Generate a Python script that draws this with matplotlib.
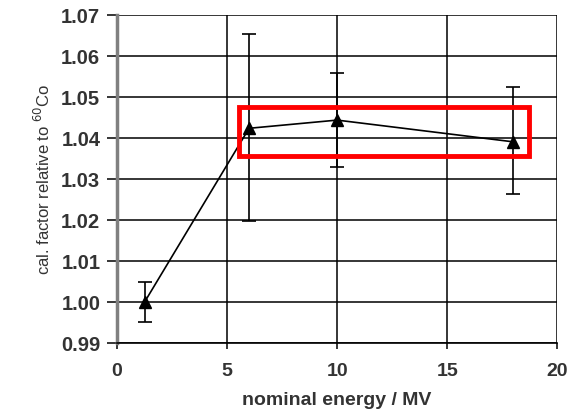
import matplotlib
matplotlib.use("Agg")
import matplotlib.pyplot as plt
from matplotlib.patches import Rectangle

energy = [1.25, 6, 10, 18]
cal_factor = [1.000, 1.0424, 1.0444, 1.0391]
err_up = [0.0049, 0.0229, 0.0115, 0.0134]
err_down = [0.0048, 0.0225, 0.0114, 0.0128]
x_ticks = [0, 5, 10, 15, 20]
y_ticks = [0.99, 1.00, 1.01, 1.02, 1.03, 1.04, 1.05, 1.06, 1.07]
highlight_x = [5.56, 18.73]
highlight_y = [1.0356, 1.0475]

plt.rcParams['font.family'] = ['Liberation Sans', 'DejaVu Sans']

fig = plt.figure(figsize=(5.68, 4.09), dpi=100)
ax = fig.add_axes([0.206, 0.161, 0.775, 0.802])

ax.errorbar(energy, cal_factor, yerr=[err_down, err_up], color='black',
            marker='^', markersize=8, linewidth=1.2, elinewidth=1.2,
            capsize=5, capthick=1.2, zorder=3)

ax.set_xlim(x_ticks[0], x_ticks[-1])
ax.set_ylim(y_ticks[0], y_ticks[-1])
ax.set_xticks(x_ticks)
ax.set_yticks(y_ticks)
ax.set_yticklabels([f"{v:.2f}" for v in y_ticks])
ax.grid(True, color='black', linewidth=1.1)
ax.set_axisbelow(True)

for s in ['top', 'right']:
    ax.spines[s].set_visible(False)
ax.spines['left'].set_color('#808080')
ax.spines['left'].set_linewidth(2.5)
ax.spines['bottom'].set_color('black')
ax.spines['bottom'].set_linewidth(1.2)

ax.tick_params(axis='y', direction='out', length=7, width=1.1, pad=5,
               labelsize=14.5)
ax.tick_params(axis='x', direction='out', length=4, width=1.1, pad=10,
               labelsize=14)
for lbl in ax.get_xticklabels() + ax.get_yticklabels():
    lbl.set_fontweight('bold')
    lbl.set_color('#333333')

ax.set_xlabel('nominal energy / MV', fontsize=14, fontweight='bold',
              color='#333333', labelpad=9)
ax.set_ylabel('cal. factor relative to $^{60}$Co', fontsize=12,
              color='#333333', labelpad=6)

rect = Rectangle((highlight_x[0], highlight_y[0]),
                 highlight_x[1] - highlight_x[0],
                 highlight_y[1] - highlight_y[0],
                 fill=False, edgecolor='red', linewidth=3.5, zorder=4)
ax.add_patch(rect)

fig.savefig('out.png', dpi=100)
